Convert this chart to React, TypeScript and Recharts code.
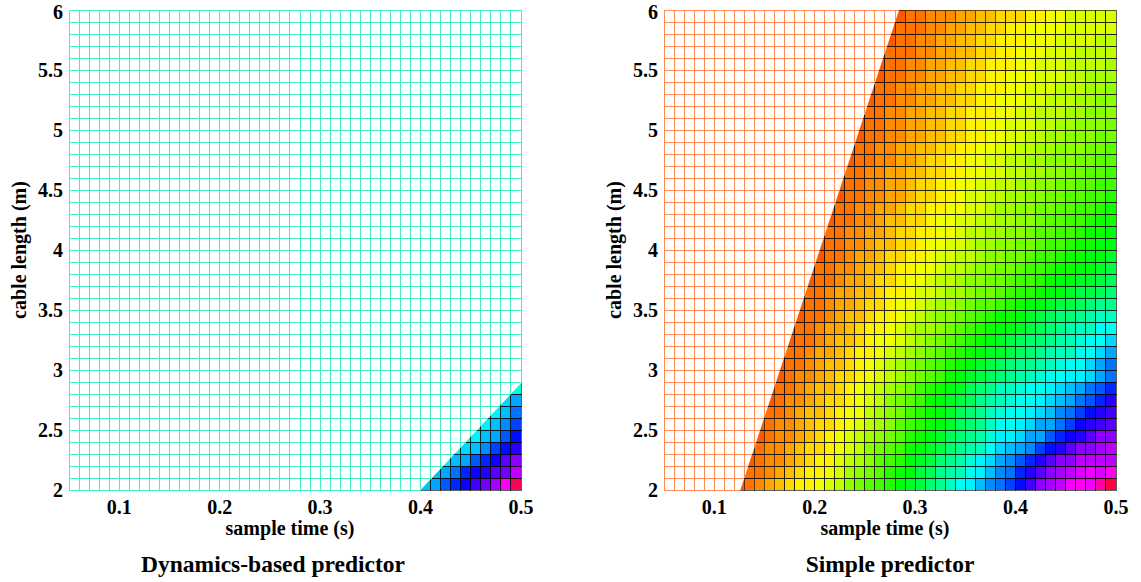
import React from "react";
import {
  ComposedChart,
  XAxis,
  YAxis,
  Area,
  ReferenceArea,
  ReferenceLine,
  Label,
} from "recharts";

// grid edges of the surface (sample time in s, cable length in m)
const sampleTimes = [
  0.05, 0.06, 0.07, 0.08, 0.09, 0.1, 0.11, 0.12, 0.13, 0.14, 0.15, 0.16, 0.17, 0.18, 0.19,
  0.2, 0.21, 0.22, 0.23, 0.24, 0.25, 0.26, 0.27, 0.28, 0.29, 0.3, 0.31, 0.32, 0.33, 0.34,
  0.35, 0.36, 0.37, 0.38, 0.39, 0.4, 0.41, 0.42, 0.43, 0.44, 0.45, 0.46, 0.47, 0.48, 0.49, 0.5,
];
const cableLengths = [
  2, 2.1, 2.2, 2.3, 2.4, 2.5, 2.6, 2.7, 2.8, 2.9, 3, 3.1, 3.2, 3.3, 3.4, 3.5, 3.6, 3.7, 3.8,
  3.9, 4, 4.1, 4.2, 4.3, 4.4, 4.5, 4.6, 4.7, 4.8, 4.9, 5, 5.1, 5.2, 5.3, 5.4, 5.5, 5.6, 5.7,
  5.8, 5.9, 6,
];
const timeTicks = [0.1, 0.2, 0.3, 0.4, 0.5];
const lengthTicks = [2, 2.5, 3, 3.5, 4, 4.5, 5, 5.5, 6];

// colour level of each cell: one char per cell, 6 deg of hue per step.
// rows go bottom (2 m) to top, and each row ends at the 0.49-0.5 s column.
const LEVELS = "0123456789ABCDEFGHIJKLMNOPQRSTUVWXYZabcdefghijklmnopqrstuvwxyz";

const dynamicsRows = [
  "WXacegikou",
  "WXZcefhil",
  "UWXacehj",
  "UVWYbdf",
  "TUWXad",
  "TUWYb",
  "TUWZ",
  "TVX",
  "S",
];

const simpleRows = [
  "34567899ABCEFGHIKLMOPRTUWYZbdgjklnonrv",
  "344567899ABDEFGIJKMNPQRTUWYZcfhjklmnmo",
  "345567899BCDEGHIKLMOPQSUVXYacfhjjllll",
  "345567889ABCEFGHJKLMOPQRTVWXYbdfhjjkl",
  "34556789ABCDEFGIJKLNOPQSUUVXXacefhjj",
  "345567889ABCDEGHIJKLNOPRTTUVXXZbefgh",
  "344567789AACDEFHIJKLNOPRSTTUVWYZbdfg",
  "345567889ABCEFGHJKLMNPQRSTTUVWXZacf",
  "344567789ABCDEFHIJKLNOPRRSTTUVWXZac",
  "345567889ABCDEFGHJKLMNOPQRSTTUUVXZ",
  "344567789ABCDEFGHIJKLMNOPPQRSTTVXZ",
  "3445667899ABCDEFGHIJKLLMNOPQRRTTVX",
  "344567789AABCDEFGHIJKLMNOOPQRSTTV",
  "3445667899ABCDDEFGHIJKKLMNOPQRRTT",
  "3445677899ABCDEEFGHIJJKLMNOOPQRR",
  "3445667889AABCDDEFGGHIJKKLMMNOPP",
  "34456677899ABBCDDEFFGHIIJKKLMMNO",
  "3445667889AABCCDEEFFGHHIJKKLLMN",
  "34455677899AABCCDEEFFGHHIJJKKLM",
  "34456678899ABBCCDEEFFGHHIJJKKL",
  "34455677889AABBCDDEEFFGHHIJJKK",
  "344556678899AABCCDDEEFGGHHIJJK",
  "34455677889AABBCCDDEEFGGHHIJJ",
  "344556678899AABBCDDEEFFGGHHIJ",
  "344556678899ABBCCDDEEFFGGHHI",
  "344556678899AABBCCDDEEFFGGHH",
  "3445566778899AABBCCDDEEFFGGH",
  "344556678899AABBCCDDEEEFFGG",
  "3445566778899AABBCCDDEEEFFG",
  "3445566778899AABBCCDDEEEFF",
  "3445566778899AABBBCCDDEEEF",
  "34455667788999AABBCCCDDEEE",
  "3445566778899AAABBCCCDDEE",
  "34455667788999AABBBCCCDDE",
  "3445566778899AAABBBCCDDD",
  "34455667788999AABBBCCCCD",
  "34445566778899AAABBBCCCC",
  "34455667788999AAABBBBCC",
  "34445566778899AAAABBBBB",
  "344555667788899AABBBBB",
];

// straight edge where the surface stops (left of it nothing is drawn)
const dynamicsEdge = [
  { t: 0.4, len: 2 },
  { t: 0.5, len: 2.89 },
];
const simpleEdge = [
  { t: 0.126, len: 2 },
  { t: 0.284, len: 6 },
];

const FONT = "'Liberation Serif', 'Times New Roman', serif";

function levelColor(ch: string) {
  return `hsl(${LEVELS.indexOf(ch) * 6 + 3}, 100%, 50%)`;
}

function buildCells(rows: string[]) {
  const cells: { x1: number; x2: number; y1: number; y2: number; fill: string }[] = [];
  rows.forEach((row, r) => {
    const start = sampleTimes.length - 1 - row.length;
    for (let i = 0; i < row.length; i++) {
      const c = start + i;
      cells.push({
        x1: sampleTimes[c],
        x2: sampleTimes[c + 1],
        y1: cableLengths[r],
        y2: cableLengths[r + 1],
        fill: levelColor(row[i]),
      });
    }
  });
  return cells;
}

type Edge = { t: number; len: number }[];

function edgeLenAt(edge: Edge, t: number) {
  const [a, b] = edge;
  if (t <= a.t) return a.len;
  if (t >= b.t) return b.len;
  return a.len + ((t - a.t) / (b.t - a.t)) * (b.len - a.len);
}

function edgeTimeAt(edge: Edge, len: number) {
  const [a, b] = edge;
  if (len > b.len) return sampleTimes[sampleTimes.length - 1];
  return a.t + ((len - a.len) / (b.len - a.len)) * (b.t - a.t);
}

function meshSegments(edge: Edge) {
  const top = cableLengths[cableLengths.length - 1];
  const left = sampleTimes[0];
  const segs: { x: number; y: number }[][] = [];
  sampleTimes.forEach((t) => {
    const low = edgeLenAt(edge, t);
    if (low < top) segs.push([{ x: t, y: low }, { x: t, y: top }]);
  });
  cableLengths.forEach((len) => {
    const right = edgeTimeAt(edge, len);
    if (right > left) segs.push([{ x: left, y: len }, { x: right, y: len }]);
  });
  return segs;
}

function maskData(edge: Edge) {
  const top = cableLengths[cableLengths.length - 1];
  return [
    { t: sampleTimes[0], band: [cableLengths[0], top] },
    { t: edge[0].t, band: [edge[0].len, top] },
    { t: edge[1].t, band: [edge[1].len, top] },
  ];
}

interface PanelProps {
  rows: string[];
  edge: Edge;
  mesh: string;
  title: string;
  titleDx: number;
}

function Panel({ rows, edge, mesh, title, titleDx }: PanelProps) {
  const cells = buildCells(rows);
  const segs = meshSegments(edge);
  const tickStyle = { fill: "#000", fontSize: 20, fontWeight: 700, fontFamily: FONT };

  return (
    <ComposedChart
      width={540}
      height={582}
      data={maskData(edge)}
      margin={{ top: 10, right: 19, bottom: 42, left: 0 }}
    >
      <XAxis
        dataKey="t"
        type="number"
        domain={[0.05, 0.5]}
        ticks={timeTicks}
        allowDataOverflow
        axisLine={false}
        tickLine={false}
        tickSize={0}
        tickMargin={10}
        height={50}
        tick={tickStyle}
      >
        <Label
          value="sample time (s)"
          position="insideBottom"
          offset={5}
          dx={-5}
          fill="#000"
          fontSize={20}
          fontWeight={700}
          fontFamily={FONT}
        />
        <Label
          value={title}
          position="bottom"
          offset={15}
          dx={titleDx}
          fill="#000"
          fontSize={23.5}
          fontWeight={700}
          fontFamily={FONT}
        />
      </XAxis>
      <YAxis
        type="number"
        domain={[2, 6]}
        ticks={lengthTicks}
        allowDataOverflow
        axisLine={false}
        tickLine={false}
        tickSize={0}
        tickMargin={6}
        width={69}
        tick={tickStyle}
      >
        <Label
          value="cable length (m)"
          angle={-90}
          position="insideLeft"
          offset={19}
          fill="#000"
          fontSize={20}
          fontWeight={700}
          fontFamily={FONT}
          style={{ textAnchor: "middle" }}
        />
      </YAxis>
      {cells.map((c, i) => (
        <ReferenceArea
          key={`c${i}`}
          x1={c.x1}
          x2={c.x2}
          y1={c.y1}
          y2={c.y2}
          fill={c.fill}
          fillOpacity={1}
          stroke="#000"
          strokeOpacity={0.62}
          strokeWidth={1}
          ifOverflow="visible"
          shapeRendering="crispEdges"
        />
      ))}
      <Area
        dataKey="band"
        type="linear"
        fill="#ffffff"
        fillOpacity={1}
        stroke="none"
        dot={false}
        activeDot={false}
        isAnimationActive={false}
      />
      {segs.map((s, i) => (
        <ReferenceLine
          key={`m${i}`}
          segment={s}
          stroke={mesh}
          strokeWidth={1}
          ifOverflow="visible"
          shapeRendering="crispEdges"
        />
      ))}
    </ComposedChart>
  );
}

export default function App() {
  return (
    <div
      style={{
        position: "absolute",
        left: 0,
        top: 0,
        width: 1141,
        height: 582,
        background: "#fff",
        fontFamily: FONT,
      }}
    >
      <div style={{ position: "absolute", left: 0, top: 0 }}>
        <Panel
          rows={dynamicsRows}
          edge={dynamicsEdge}
          mesh="#44eec2"
          title="Dynamics-based predictor"
          titleDx={-22}
        />
      </div>
      <div style={{ position: "absolute", left: 595, top: 0 }}>
        <Panel
          rows={simpleRows}
          edge={simpleEdge}
          mesh="#ff8b55"
          title="Simple predictor"
          titleDx={0}
        />
      </div>
    </div>
  );
}
